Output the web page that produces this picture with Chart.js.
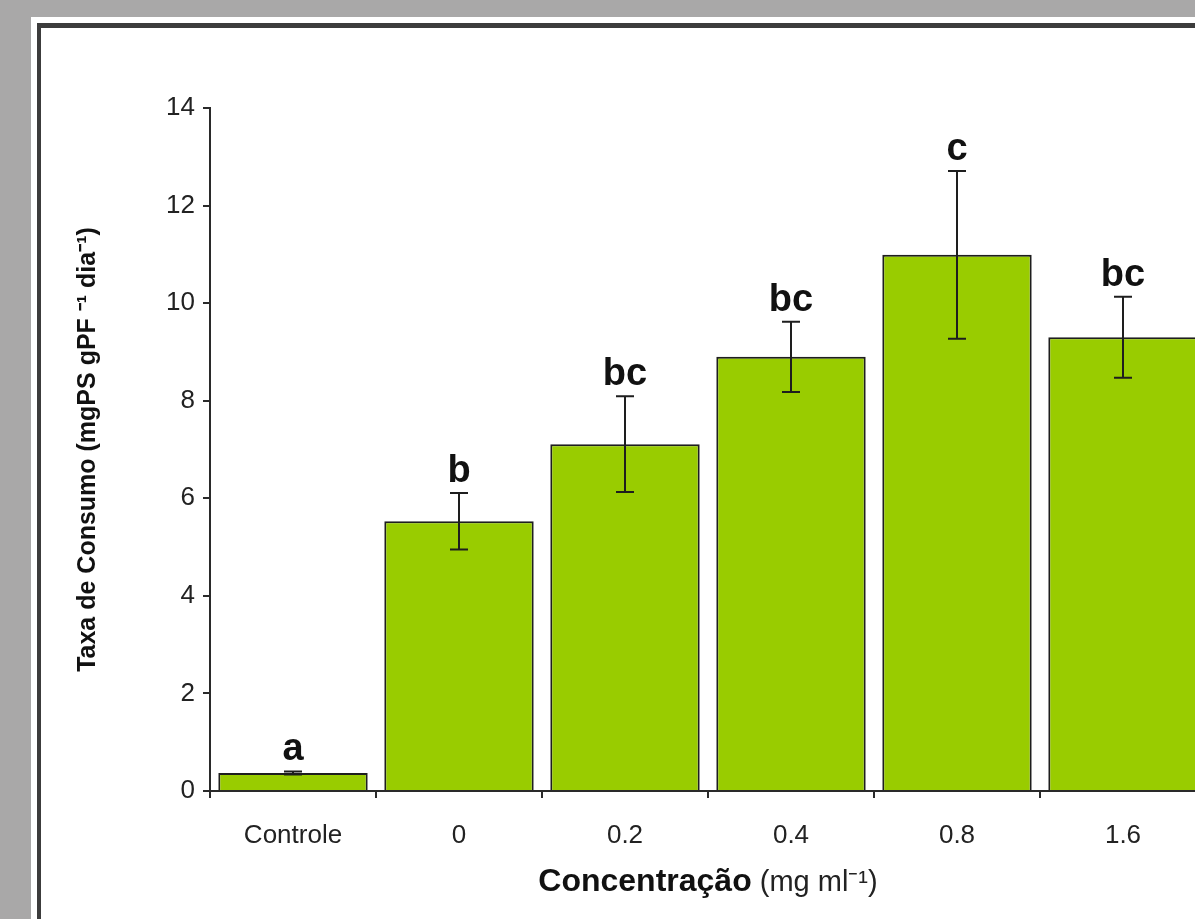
<!DOCTYPE html>
<html>
<head>
<meta charset="utf-8">
<script src="https://cdn.jsdelivr.net/npm/chart.js@4"></script>
<style>
  html, body { margin: 0; padding: 0; width: 1195px; height: 919px; overflow: hidden; background: #a9a8a8; }
  #panel { position: absolute; left: 31px; top: 17px; width: 1300px; height: 1000px; background: #fff; }
  #frame { position: absolute; left: 37px; top: 23px; width: 1300px; height: 1000px; border-left: 4px solid #3c3c3c; border-top: 5px solid #3c3c3c; }
  #wrap { position: absolute; left: 0; top: 0; width: 1230px; height: 919px; }
</style>
</head>
<body>
<div id="panel"></div>
<div id="frame"></div>
<div id="wrap"><canvas id="consumo"></canvas></div>
<script>
// dados
let categorias = ['Controle', '0', '0.2', '0.4', '0.8', '1.6'];
let taxaConsumo = [0.37, 5.53, 7.11, 8.9, 10.99, 9.3];
let erroPadrao = [0.03, 0.58, 0.98, 0.72, 1.72, 0.83];
let letras = ['a', 'b', 'bc', 'bc', 'c', 'bc'];
let yTicks = [0, 2, 4, 6, 8, 10, 12, 14];

let fonte = "'Liberation Sans', Arial, sans-serif";

// barras de erro + letras
let errorBars = {
    id: 'errorBars',
    afterDatasetsDraw(chart) {
        let ctx = chart.ctx;
        let y = chart.scales.y;
        let meta = chart.getDatasetMeta(0);
        ctx.save();
        ctx.strokeStyle = '#1e1e1e';
        ctx.lineWidth = 2;
        meta.data.forEach(function (bar, i) {
            let v = taxaConsumo[i], e = erroPadrao[i];
            let top = y.getPixelForValue(v + e);
            let bot = y.getPixelForValue(v - e);
            ctx.beginPath();
            ctx.moveTo(bar.x, top); ctx.lineTo(bar.x, bot);
            ctx.moveTo(bar.x - 9, top); ctx.lineTo(bar.x + 9, top);
            ctx.moveTo(bar.x - 9, bot); ctx.lineTo(bar.x + 9, bot);
            ctx.stroke();
            ctx.fillStyle = '#111';
            ctx.font = 'bold 38px ' + fonte;
            ctx.textAlign = 'center';
            ctx.textBaseline = 'alphabetic';
            ctx.fillText(letras[i], bar.x, top - 11);
        });
        ctx.restore();
    }
};

// titulo do eixo x com partes em negrito e normal
let xTitle = {
    id: 'xTitle',
    afterDraw(chart) {
        let ctx = chart.ctx;
        let a = chart.chartArea;
        let t1 = 'Concentração', t2 = ' (mg ml⁻¹)';
        ctx.save();
        ctx.font = 'bold 32px ' + fonte;
        let w1 = ctx.measureText(t1).width;
        ctx.font = '29px ' + fonte;
        let w2 = ctx.measureText(t2).width;
        let x0 = (a.left + a.right) / 2 - (w1 + w2) / 2;
        ctx.textBaseline = 'alphabetic';
        ctx.textAlign = 'left';
        ctx.fillStyle = '#111';
        ctx.font = 'bold 32px ' + fonte;
        ctx.fillText(t1, x0, 891);
        ctx.fillStyle = '#222';
        ctx.font = '29px ' + fonte;
        ctx.fillText(t2, x0 + w1, 891);
        ctx.restore();
    }
};

let ctx = document.getElementById('consumo').getContext('2d');

let grafico = new Chart(ctx, {
    type: 'bar',
    data: {
        labels: categorias,
        datasets: [{
            label: 'Taxa de Consumo',
            data: taxaConsumo,
            backgroundColor: '#99cc00',
            borderColor: '#1e1e1e',
            borderWidth: 2,
            barPercentage: 0.9,
            categoryPercentage: 1.0
        }]
    },
    options: {
        responsive: true,
        maintainAspectRatio: false,
        animation: false,
        layout: { padding: { left: 0, top: 108, right: 24, bottom: 0 } },
        plugins: {
            legend: { display: false },
            tooltip: { enabled: false }
        },
        scales: {
            x: {
                grid: { display: true, drawOnChartArea: false, color: '#2a2a2a', lineWidth: 2, tickLength: 7 },
                border: { color: '#2a2a2a', width: 2 },
                ticks: { color: '#222', font: { family: fonte, size: 26 }, padding: 22 },
                afterFit(scale) { scale.height = 128; }
            },
            y: {
                min: 0,
                max: 14,
                afterBuildTicks(scale) { scale.ticks = yTicks.map(v => ({ value: v })); },
                grid: { display: true, drawOnChartArea: false, color: '#2a2a2a', lineWidth: 2, tickLength: 7 },
                border: { color: '#2a2a2a', width: 2 },
                ticks: { color: '#222', font: { family: fonte, size: 26 }, padding: 8 },
                title: {
                    display: true,
                    text: 'Taxa de Consumo (mgPS gPF ⁻¹ dia⁻¹)',
                    color: '#111',
                    font: { family: fonte, size: 25, weight: 'bold' },
                    padding: { top: 73, bottom: 0 }
                },
                afterFit(scale) { scale.width = 210; }
            }
        }
    },
    plugins: [errorBars, xTitle]
});
</script>
</body>
</html>
